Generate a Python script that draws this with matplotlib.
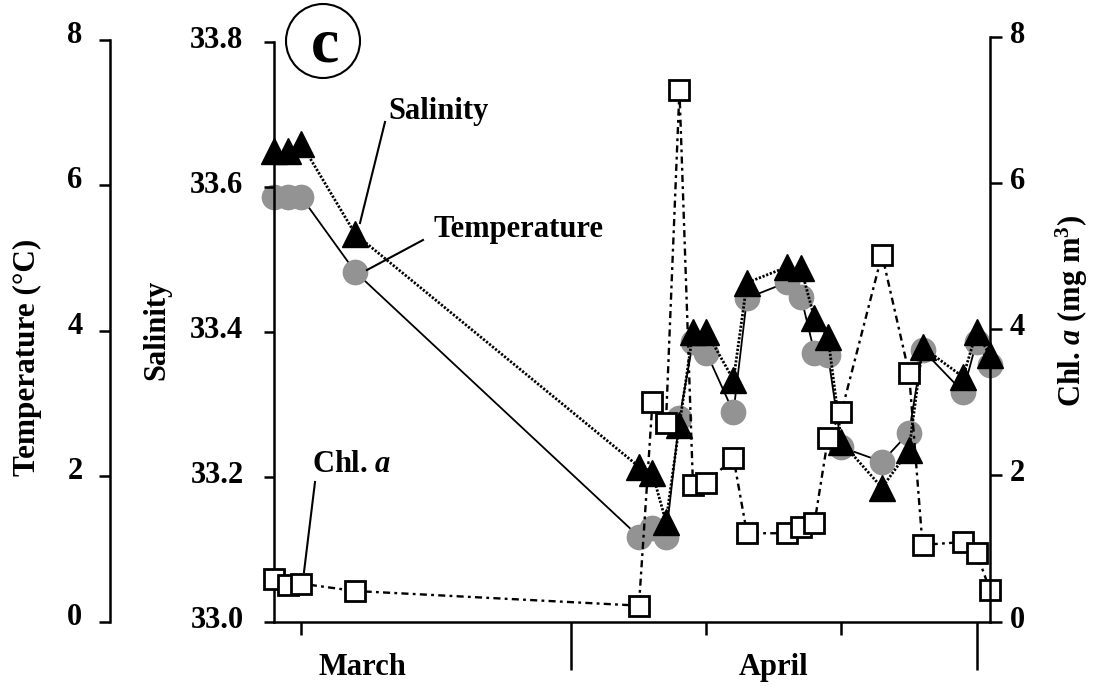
import matplotlib
matplotlib.use("Agg")
import matplotlib.pyplot as plt
from matplotlib.patches import Circle
from matplotlib.lines import Line2D
from matplotlib.transforms import ScaledTranslation

plt.rcParams['font.family'] = 'Liberation Serif'
plt.rcParams['font.weight'] = 'bold'
plt.rcParams['mathtext.fontset'] = 'custom'
plt.rcParams['mathtext.rm'] = 'Liberation Serif:bold'
plt.rcParams['mathtext.it'] = 'Liberation Serif:bold:italic'
plt.rcParams['mathtext.bf'] = 'Liberation Serif:bold'

# sampling days as day of year (69 = 10 March, 91 = 1 April, 122 = 2 May)
doy = [69, 70, 71, 75, 96, 97, 98, 99, 100, 101, 103, 104,
       107, 108, 109, 110, 111, 114, 116, 117, 120, 121, 122]
salinity = [33.650, 33.650, 33.660, 33.535, 33.214, 33.205, 33.138, 33.272,
            33.400, 33.400, 33.334, 33.468, 33.490, 33.488, 33.419, 33.393,
            33.248, 33.185, 33.237, 33.379, 33.338, 33.400, 33.368]
temperature = [5.84, 5.84, 5.84, 4.81, 1.17, 1.29, 1.17, 2.80, 3.85, 3.70,
               2.88, 4.45, 4.67, 4.47, 3.70, 3.67, 2.40, 2.20, 2.60, 3.74,
               3.16, 3.85, 3.53]
chl = [0.58, 0.50, 0.52, 0.42, 0.22, 3.00, 2.72, 7.27, 1.87, 1.90, 2.24,
       1.21, 1.21, 1.30, 1.35, 2.51, 2.87, 5.02, 3.40, 1.05, 1.09, 0.94, 0.43]

month_ticks = [91, 121]
day_ticks = [71, 101, 111]
months = ['March', 'April']
month_pos = [75.5, 106]

W, H = 1093, 686


def fx(x):
    return x / W


def fy(y):
    return 1 - y / H


fig = plt.figure(figsize=(W / 100, H / 100), dpi=100)
ax_t = fig.add_axes([0.2510, 0.0937, 0.6548, 0.8528])
ax_s = ax_t.twinx()
ax_c = ax_t.twinx()

lw_sp = 1.8

# temperature (host, outer left axis)
ax_t.plot(doy, temperature, '-', color='black', lw=1.3, marker='o', ms=17.5,
          mfc='#939393', mec='#939393', clip_on=False)
ax_t.set_xlim(69, 122)
ax_t.set_ylim(0, 8.046)
ax_t.set_yticks([0, 2, 4, 6, 8])
ax_t.spines['left'].set_position(('axes', -0.2296))
ax_t.spines['left'].set_bounds(0, 8)
ax_t.spines['top'].set_visible(False)
ax_t.spines['right'].set_visible(False)
for s in ('left', 'bottom'):
    ax_t.spines[s].set_linewidth(lw_sp)
ax_t.tick_params(axis='y', direction='out', length=7.9, width=lw_sp, pad=12,
                 labelsize=22, left=True, right=False)
ax_t.set_xticks(month_ticks)
ax_t.set_xticks(day_ticks, minor=True)
ax_t.tick_params(axis='x', which='major', direction='out', length=34.6,
                 width=lw_sp, labelbottom=False)
ax_t.tick_params(axis='x', which='minor', direction='out', length=9.4,
                 width=lw_sp, labelbottom=False)

# salinity (inner left axis)
ax_s.plot(doy, salinity, color='black', ls=(0, (0.8, 0.6)), lw=2, marker='^',
          ms=19, mfc='black', mec='black', clip_on=False)
ax_s.set_ylim(33.0, 33.8077)
ax_s.set_yticks([33.0, 33.2, 33.4, 33.6, 33.8])
ax_s.set_yticklabels(['%.1f' % v for v in [33.0, 33.2, 33.4, 33.6, 33.8]])
ax_s.yaxis.set_ticks_position('left')
for s in ('top', 'right', 'bottom'):
    ax_s.spines[s].set_visible(False)
ax_s.spines['left'].set_visible(True)
ax_s.spines['left'].set_linewidth(lw_sp)
ax_s.spines['left'].set_bounds(33.0, 33.8)
ax_s.tick_params(axis='y', direction='out', length=7.2, width=lw_sp, pad=15,
                 labelsize=22, left=True, right=False, labelleft=True,
                 labelright=False)

# chlorophyll a (right axis)
ax_c.plot(doy, chl, color='black', ls=(0, (3, 1.8, 1.2, 1.8)), lw=1.7,
          marker='s', ms=14, mfc='white', mec='black', mew=2, clip_on=False)
ax_c.set_ylim(0, 8.0)
ax_c.set_yticks([0, 2, 4, 6, 8])
for s in ('top', 'left', 'bottom'):
    ax_c.spines[s].set_visible(False)
ax_c.spines['right'].set_linewidth(lw_sp)
ax_c.spines['right'].set_bounds(0, 8)
ax_c.tick_params(axis='y', direction='out', length=8.4, width=lw_sp, pad=6,
                 labelsize=22)

# nudge tick labels up a little, as in the original
for ax, dy in ((ax_t, 8), (ax_s, 5), (ax_c, 5)):
    for lab in ax.get_yticklabels():
        lab.set_transform(lab.get_transform() +
                          ScaledTranslation(0, dy / 100, fig.dpi_scale_trans))

for m, x in zip(months, month_pos):
    ax_t.text(x, -0.091, m, transform=ax_t.get_xaxis_transform(),
              ha='center', va='baseline', fontsize=22)

# axis titles
fig.text(fx(27.5), fy(357), 'Temperature (°C)', rotation=90, ha='center',
         va='center', fontsize=22.5)
fig.text(fx(157), fy(330), 'Salinity', rotation=90, ha='center',
         va='center', fontsize=22)
fig.text(fx(1071.5), fy(311.5), 'Chl. $a$ (mg m$^{3}$)', rotation=90,
         ha='center', va='center', fontsize=22)

# series labels with leader lines
fig.text(fx(438), fy(119), 'Salinity', ha='center', va='baseline', fontsize=22)
fig.text(fx(518), fy(236.7), 'Temperature', ha='center', va='baseline',
         fontsize=22)
fig.text(fx(352), fy(472), 'Chl. $a$', ha='center', va='baseline', fontsize=22)
for (x0, y0), (x1, y1) in [((385, 122), (360, 223)),
                           ((423, 240), (367, 270)),
                           ((315, 482), (304, 572))]:
    fig.add_artist(Line2D([fx(x0), fx(x1)], [fy(y0), fy(y1)],
                          color='black', lw=1.5))

# panel letter
fig.add_artist(Circle((3.23, (H - 41) / 100), 0.37, fill=False, lw=1.5,
                      ec='black', transform=fig.dpi_scale_trans))
fig.text(fx(325), fy(61.7), 'c', ha='center', va='baseline', fontsize=46)

fig.savefig('out.png', dpi=100)
